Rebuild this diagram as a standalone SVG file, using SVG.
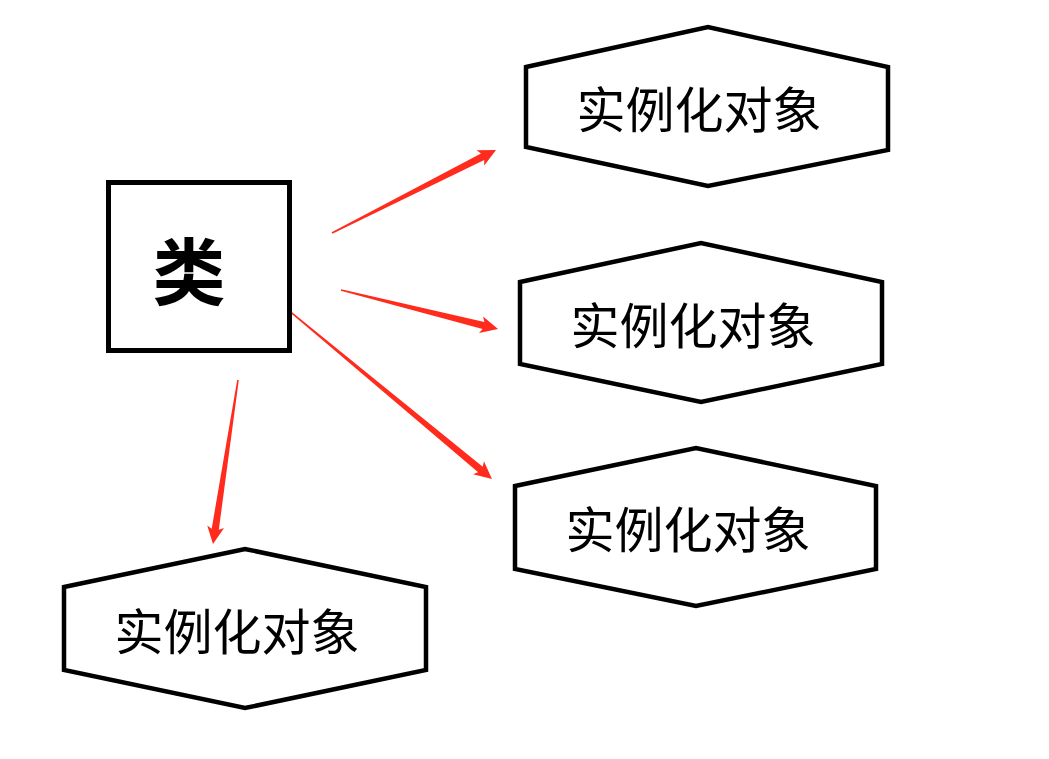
<svg xmlns="http://www.w3.org/2000/svg" width="1049" height="759" viewBox="0 0 1049 759">
<style>
.hex{fill:#fff;stroke:#000;stroke-width:4.5;stroke-linejoin:miter}
.box{fill:#fff;stroke:#000;stroke-width:5}
.t{font-family:"Noto Sans CJK SC","Noto Sans",sans-serif;font-size:49px;fill:#000;text-anchor:middle;dominant-baseline:central}
.b{font-family:"Noto Sans CJK SC","Noto Sans",sans-serif;font-size:73px;font-weight:bold;fill:#000;text-anchor:middle;dominant-baseline:central}
.arr{fill:#ff2b1c}
</style>
<rect width="1049" height="759" fill="#fff"/>
<g id="connectors">
<polygon class="arr" transform="translate(332,233) rotate(-26.84)" points="0,-0.8 168.8,-3.6 166.3,-8.5 183.8,0 166.3,8.5 168.8,3.6 0,0.8"/>
<polygon class="arr" transform="translate(341,290) rotate(13.95)" points="0,-0.8 146.8,-3.6 144.3,-8.5 161.8,0 144.3,8.5 146.8,3.6 0,0.8"/>
<polygon class="arr" transform="translate(287,309) rotate(39.67)" points="0,-0.8 251.3,-3.6 248.8,-8.5 266.3,0 248.8,8.5 251.3,3.6 0,0.8"/>
<polygon class="arr" transform="translate(238,380) rotate(98.67)" points="0,-0.8 150.9,-3.6 148.4,-8.5 165.9,0 148.4,8.5 150.9,3.6 0,0.8"/>
</g>
<g id="class">
<rect class="box" x="108.5" y="182.5" width="181" height="168"/>
<text class="b" x="189" y="267">类</text>
</g>
<g id="obj1">
<polygon class="hex" points="526,67 708,27 888,67 888,150 708,186 526,147"/>
<text class="t" x="699" y="106">实例化对象</text>
</g>
<g id="obj2">
<polygon class="hex" points="520,282 701,243 882,282 882,364 701,402 520,364"/>
<text class="t" x="693" y="322">实例化对象</text>
</g>
<g id="obj3">
<polygon class="hex" points="515,486 696,448 876,486 876,569 696,606 515,569"/>
<text class="t" x="688" y="526">实例化对象</text>
</g>
<g id="obj4">
<polygon class="hex" points="64,587 245,549 426,587 426,670 245,708 64,670"/>
<text class="t" x="237" y="628">实例化对象</text>
</g>
</svg>
